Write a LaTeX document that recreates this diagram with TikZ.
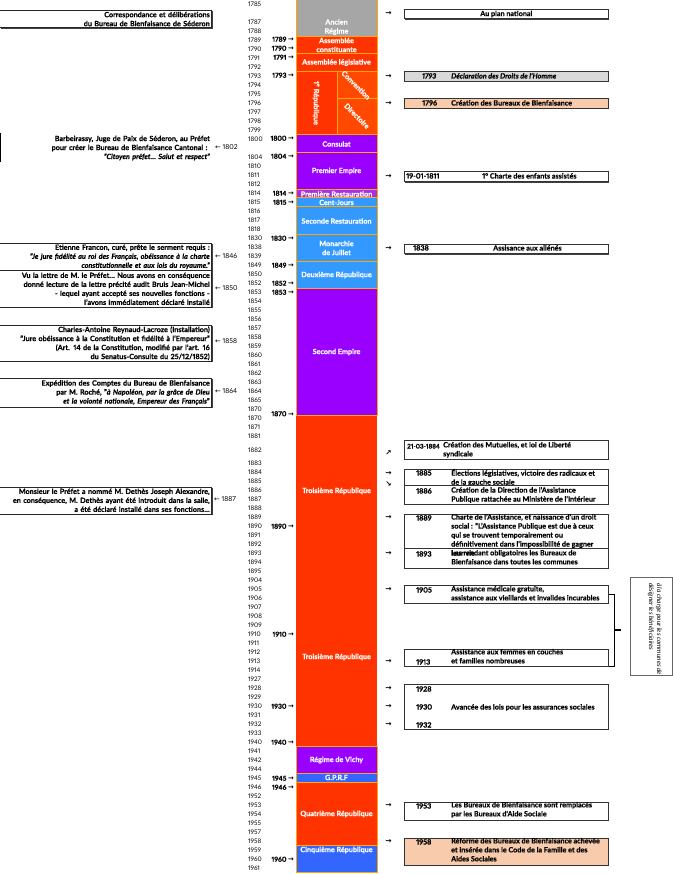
\documentclass[tikz,border=0pt]{standalone}
\usepackage{fontspec}
\setmainfont{Lato}[Numbers=Proportional, BoldFeatures={FakeBold=0.5}, BoldItalicFeatures={FakeBold=0.5}]
\newfontfamily\arrowfont{DejaVu Sans}
\usetikzlibrary{shadows}

\definecolor{ancien}{HTML}{A6A6A6}
\definecolor{rouge}{HTML}{FF3300}
\definecolor{rougeclair}{HTML}{FF4800}
\definecolor{violet}{HTML}{9900FF}
\definecolor{violetclair}{HTML}{A333E6}
\definecolor{bleu}{HTML}{3399FF}
\definecolor{bleufonce}{HTML}{3366FF}
\definecolor{bord}{HTML}{FFA800}
\definecolor{gris}{HTML}{D9D9D9}
\definecolor{peche}{HTML}{F8CBAD}

\tikzstyle{era} = [draw=bord, line width=0.8pt]
\tikzstyle{eralabel} = [text=white, font=\bfseries, align=center, inner sep=0pt]
\tikzstyle{yearrow} = [anchor=west, inner sep=0pt, text height=4.6pt, text depth=1.2pt, font=\fontsize{6.3}{9}\selectfont]
\tikzstyle{yearmark} = [anchor=east, inner sep=0pt, text height=4.6pt, text depth=1.2pt, font=\bfseries\fontsize{6.8}{9}\selectfont]
\tikzstyle{backmark} = [anchor=west, inner sep=0pt, text height=4.6pt, text depth=1.2pt, font=\fontsize{6.8}{9}\selectfont]
\tikzstyle{shadowed} = [drop shadow={shadow xshift=0.8pt, shadow yshift=-0.8pt, fill=black!75, opacity=1}]
\tikzstyle{leftbox} = [shadowed, draw=black!85, fill=white, line width=0.6pt, anchor=north east, minimum width=212pt, text width=208pt, align=right, inner xsep=2pt, inner ysep=0pt, font=\bfseries]
\tikzstyle{leftnote} = [anchor=north east, text width=208pt, align=right, inner xsep=2pt, inner ysep=0pt, font=\bfseries]
\tikzstyle{rightbox} = [shadowed, draw=black!80, fill=white, line width=0.6pt, anchor=north west, minimum width=204pt, inner sep=0pt, font=\bfseries]
\tikzstyle{rightyear} = [anchor=north west, inner sep=0pt, font=\bfseries, execute at begin node=\rule{0pt}{6.5pt}]
\tikzstyle{righttext} = [anchor=north west, inner sep=0pt, font=\bfseries, align=left, execute at begin node=\rule{0pt}{6.5pt}]
\tikzstyle{pointer} = [inner sep=0pt, font=\arrowfont\bfseries\fontsize{7.5}{9}\selectfont]
\tikzstyle{brace} = [line width=1.3pt]

\begin{document}
\fontsize{7.2}{9}\selectfont
\begin{tikzpicture}[x=1pt, y=-1pt]
\useasboundingbox (0,0) rectangle (672,874);

% colonne des regimes
\draw [era, fill=ancien] (296,-1) rectangle (377,36.5);
\draw [era, fill=rouge] (296,36.5) rectangle (377,53.5);
\draw [era, fill=rouge] (296,53.5) rectangle (377,71.5);
\draw [era, fill=rouge] (296,71.5) rectangle (337,134.5);
\draw [era, fill=rougeclair] (337,71.5) rectangle (377,98);
\draw [era, fill=rougeclair] (337,98) rectangle (377,134.5);
\draw [era, fill=violet] (296,134.5) rectangle (377,152.5);
\draw [era, fill=violet] (296,152.5) rectangle (377,189.5);
\draw [era, fill=violetclair] (296,189.5) rectangle (377,197.5);
\draw [era, fill=bleu] (296,197.5) rectangle (377,206.5);
\draw [era, fill=bleu] (296,206.5) rectangle (377,234.5);
\draw [era, fill=bleu] (296,234.5) rectangle (377,261.5);
\draw [era, fill=bleu] (296,261.5) rectangle (377,288.5);
\draw [era, fill=violet] (296,288.5) rectangle (377,415.5);
\fill [rouge] (296,415.5) rectangle (377,746.5);
\draw [era, fill=violet] (296,746.5) rectangle (377,773);
\draw [era, fill=bleufonce] (296,773) rectangle (377,782);
\draw [era, fill=rouge] (296,782) rectangle (377,845.5);
\draw [era, fill=bleufonce] (296,845.5) rectangle (377,872.5);

\node [eralabel] at (336.5,27) (ancien) {Ancien\\Régime};
\node [eralabel] at (336.5,45) (constituante) {Assemblée\\constituante};
\node [eralabel] at (336.5,62.5) (legislative) {Assemblée législative};
\node [eralabel, rotate=-90] at (316,103) (republique1) {1\textsuperscript{e} République};
\node [eralabel, rotate=-45] at (356,85) (convention) {Convention};
\node [eralabel, rotate=-45] at (357,116) (directoire) {Directoire};
\node [eralabel] at (336.5,144) (consulat) {Consulat};
\node [eralabel] at (336.5,171) (empire1) {Premier Empire};
\node [eralabel] at (336.5,194) (restauration1) {Première Restauration};
\node [eralabel] at (336.5,202.5) (centjours) {Cent-Jours};
\node [eralabel] at (336.5,221) (restauration2) {Seconde Restauration};
\node [eralabel] at (336.5,248) (juillet) {Monarchie\\de Juillet};
\node [eralabel] at (336.5,275) (republique2) {Deuxième République};
\node [eralabel] at (336.5,352) (empire2) {Second Empire};
\node [eralabel] at (336.5,491) (republique3a) {Troisième République};
\node [eralabel] at (336.5,657) (republique3b) {Troisième République};
\node [eralabel] at (336.5,760) (vichy) {Régime de Vichy};
\node [eralabel] at (336.5,777.5) (gprf) {G.P.R.F};
\node [eralabel] at (336.5,814) (republique4) {Quatrième République};
\node [eralabel] at (336.5,850) (republique5) {Cinquième République};

% annees
\foreach \r/\yr [count=\i] in {0/1785, 2/1787, 3/1788, 4/1789, 5/1790, 6/1791, 7/1792, 8/1793, 9/1794, 10/1795, 11/1796, 12/1797, 13/1798, 14/1799, 15/1800, 17/1804, 18/1810, 19/1811, 20/1812, 21/1814, 22/1815, 23/1816, 24/1817, 25/1818, 26/1830, 27/1838, 28/1839, 29/1849, 30/1850, 31/1852, 32/1853, 33/1854, 34/1855, 35/1856, 36/1857, 37/1858, 38/1859, 39/1860, 40/1861, 41/1862, 42/1863, 43/1864, 44/1865, 45/1870, 46/1870, 47/1871, 48/1881, 49.5/1882, 51/1883, 52/1884, 53/1885, 54/1886, 55/1887, 56/1888, 57/1889, 58/1890, 59/1891, 60/1892, 61/1893, 62/1894, 63/1895, 64/1904, 65/1905, 66/1906, 67/1907, 68/1908, 69/1909, 70/1910, 71/1911, 72/1912, 73/1913, 74/1914, 75/1927, 76/1928, 77/1929, 78/1930, 79/1931, 80/1932, 81/1933, 82/1940, 83/1941, 84/1942, 85/1944, 86/1945, 87/1946, 88/1952, 89/1953, 90/1954, 91/1955, 92/1957, 93/1958, 94/1959, 95/1960, 96/1961}
  \node [yearrow] at (248,{5+9*\r}) (an\i) {\yr};

\foreach \y/\yr [count=\i] in {40/1789, 49/1790, 58/1791, 76/1793, 139/1800, 157/1804, 194/1814, 203/1815, 239/1830, 266/1849, 284/1852, 293/1853, 414.5/1870, 527/1890, 635/1910, 707/1930, 743/1940, 779/1945, 788/1946, 860/1960}
  \node [yearmark] at (294,\y) (mark\i) {\yr~{\arrowfont →}};

% documents locaux
\node [leftbox, minimum height=17.5pt] at (212,10) (corresp) {Correspondance et délibérations\\du Bureau de Bienfaisance de Séderon};
\draw [line width=0.6pt] (0.5,133) -- (0.5,162);
\node [leftnote] at (212,135.5) (barbeirassy) {Barbeirassy, Juge de Paix de Séderon, au Préfet\\pour créer le Bureau de Bienfaisance Cantonal :\phantom{~}\\\textit{"Citoyen préfet… Salut et respect"}};
\node [leftbox, minimum height=27pt] at (212,243) (francon) {Etienne Francon, curé, prête le serment requis :\\\textit{"Je jure fidélité au roi des Français, obéissance à la charte}\\\textit{constitutionnelle et aux lois du royaume."}};
\node [leftbox, minimum height=37pt] at (212,270) (bruis) {Vu la lettre de M. le Préfet… Nous avons en conséquence\\donné lecture de la lettre précité audit Bruis Jean-Michel\\- lequel ayant accepté ses nouvelles fonctions -\\l'avons immédiatement déclaré installé};
\node [leftbox, minimum height=36pt] at (212,325) (reynaud) {Charles-Antoine Reynaud-Lacroze (Installation)\\"Jure obéissance à la Constitution et fidélité à l'Empereur"\\(Art. 14 de la Constitution, modifié par l'art. 16\\du Senatus-Consulte du 25/12/1852)};
\node [leftbox, minimum height=28.5pt] at (212,378) (comptes) {Expédition des Comptes du Bureau de Bienfaisance\\par M. Roché, "\textit{à Napoléon, par la grâce de Dieu}\\\textit{et la volonté nationale, Empereur des Français}"};
\node [leftbox, minimum height=27pt] at (212,486.5) (dethes) {Monsieur le Préfet a nommé M. Dethès Joseph Alexandre,\\en conséquence, M. Dethès ayant été introduit dans la salle,\\a été déclaré installé dans ses fonctions…};

\node [backmark] at (215,148) (m1802) {{\arrowfont ←}~1802};
\node [backmark] at (215,257) (m1846) {{\arrowfont ←}~1846};
\node [backmark] at (215,289) (m1850) {{\arrowfont ←}~1850};
\node [backmark] at (215,342) (m1858) {{\arrowfont ←}~1858};
\node [backmark] at (215,392) (m1864) {{\arrowfont ←}~1864};
\node [backmark] at (214,500) (m1887) {{\arrowfont ←}~1887};

% plan national
\node [rightbox, minimum height=9.5pt] at (404,9) (national) {Au plan national};

\node [rightbox, minimum height=10pt, fill=gris] at (404,71) (b1793) {};
\node [rightyear] at (422,71.8) (y1793) {\textit{1793}};
\node [righttext] at (451,71.8) (t1793) {\textit{Déclaration des Droits de l'Homme}};

\node [rightbox, minimum height=10pt, fill=peche] at (404,98) (b1796) {};
\node [rightyear] at (422,98.8) (y1796) {1796};
\node [righttext] at (451,98.8) (t1796) {Création des Bureaux de Bienfaisance};

\node [rightbox, minimum height=10pt] at (404,171.5) (b1811) {};
\node [rightyear] at (406,171.8) (y1811) {19-01-1811};
\node [righttext] at (482,171.8) (t1811) {1° Charte des enfants assistés};

\node [rightbox, minimum height=9.5pt] at (404,244) (b1838) {};
\node [rightyear] at (413,243.8) (y1838) {1838};
\node [righttext] at (493,243.8) (t1838) {Assisance aux aliénés};

\node [rightbox, minimum height=19pt] at (404,440) (b1884) {};
\node [rightyear, font=\bfseries\fontsize{6.3}{9}\selectfont] at (407,441.8) (y1884) {21-03-1884};
\node [righttext] at (443,441.8) (t1884) {Création des Mutuelles, et loi de Liberté\\syndicale};

\node [rightbox, minimum height=16pt] at (404,469) (b1885) {};
\node [rightyear] at (416,468.8) (y1885) {1885};
\node [righttext] at (451,468.8) (t1885) {Élections législatives, victoire des radicaux et\\de la gauche sociale};

\node [rightbox, minimum height=19pt] at (404,485) (b1886) {};
\node [rightyear] at (416,486.8) (y1886) {1886};
\node [righttext] at (451,486.8) (t1886) {Création de la Direction de l'Assistance\\Publique rattachée au Ministère de l'Intérieur};

\node [rightbox, minimum height=34.5pt] at (404,513.5) (b1889) {};
\node [rightbox, minimum height=20pt] at (404,548) (b1893) {};
\node [rightyear] at (416,513.8) (y1889) {1889};
\node [righttext] at (451,513.8) (t1889) {Charte de l'Assistance, et naissance d'un droit\\social : "L'Assistance Publique est due à ceux\\qui se trouvent temporairement ou\\définitivement dans l'impossibilité de gagner\\leur vie};
\node [rightyear] at (416,549.8) (y1893) {1893};
\node [righttext] at (451,549.8) (t1893) {Les rendant obligatoires les Bureaux de\\Bienfaisance dans toutes les communes};

\node [rightbox, minimum height=18pt] at (404,585) (b1905) {};
\node [rightyear] at (416,585.8) (y1905) {1905};
\node [righttext] at (451,585.8) (t1905) {Assistance médicale gratuite,\\assistance aux vieillards et invalides incurables};

\node [rightbox, minimum height=17pt] at (404,649) (b1913) {};
\node [rightyear] at (416,657.8) (y1913) {1913};
\node [righttext] at (451,648.8) (t1913) {Assistance aux femmes en couches\\et familles nombreuses};

\node [rightbox, minimum height=45pt] at (404,684) (b1930) {};
\node [rightyear] at (416,684.8) (y1928) {1928};
\node [rightyear] at (416,702.8) (y1930) {1930};
\node [rightyear] at (416,720.8) (y1932) {1932};
\node [righttext] at (451,702.8) (t1930) {Avancée des lois pour les assurances sociales};

\node [rightbox, minimum height=18pt] at (404,801.5) (b1953) {};
\node [rightyear] at (416,801.8) (y1953) {1953};
\node [righttext] at (451,801.8) (t1953) {Les Bureaux de Bienfaisance sont remplacés\\par les Bureaux d'Aide Sociale};

\node [rightbox, minimum height=27pt, fill=peche] at (404,837.5) (b1958) {};
\node [rightyear] at (416,837.8) (y1958) {1958};
\node [righttext] at (451,837.8) (t1958) {Réforme des Bureaux de Bienfaisance achevée\\et insérée dans le Code de la Famille et des\\Aides Sociales};

% fleches
\node [pointer] at (388.5,13) (p1) {→};
\node [pointer] at (388.5,76) (p2) {→};
\node [pointer] at (388.5,103) (p3) {→};
\node [pointer] at (388.5,176) (p4) {→};
\node [pointer] at (388.5,248) (p5) {→};
\node [pointer] at (388.5,453) (p6) {↗};
\node [pointer] at (388.5,473) (p7) {→};
\node [pointer] at (388.5,484) (p8) {↘};
\node [pointer] at (388.5,517) (p9) {→};
\node [pointer] at (388.5,553) (p10) {→};
\node [pointer] at (388.5,589) (p11) {→};
\node [pointer] at (388.5,661) (p12) {→};
\node [pointer] at (388.5,688) (p13) {→};
\node [pointer] at (388.5,706) (p14) {→};
\node [pointer] at (388.5,724) (p15) {→};
\node [pointer] at (388.5,805) (p16) {→};
\node [pointer] at (388.5,841) (p17) {→};

% accolade et note
\draw [brace] (b1905.east) -- ++(6,0) |- (b1913.south east);
\coordinate (bracetip) at (621,630);
\draw [brace] (bracetip) -- ++(-7,0);
\node [draw=black!60, line width=0.4pt, minimum width=42pt, minimum height=98pt, anchor=north west, inner sep=0pt] at (630,577) (note) {};
\node [rotate=-90, font=\itshape\fontsize{6.6}{8}\selectfont, align=left, inner sep=0pt] at (655,629) (notetext) {à la charge pour les communes de\\désigner les bénéficiaires};
\end{tikzpicture}
\end{document}
